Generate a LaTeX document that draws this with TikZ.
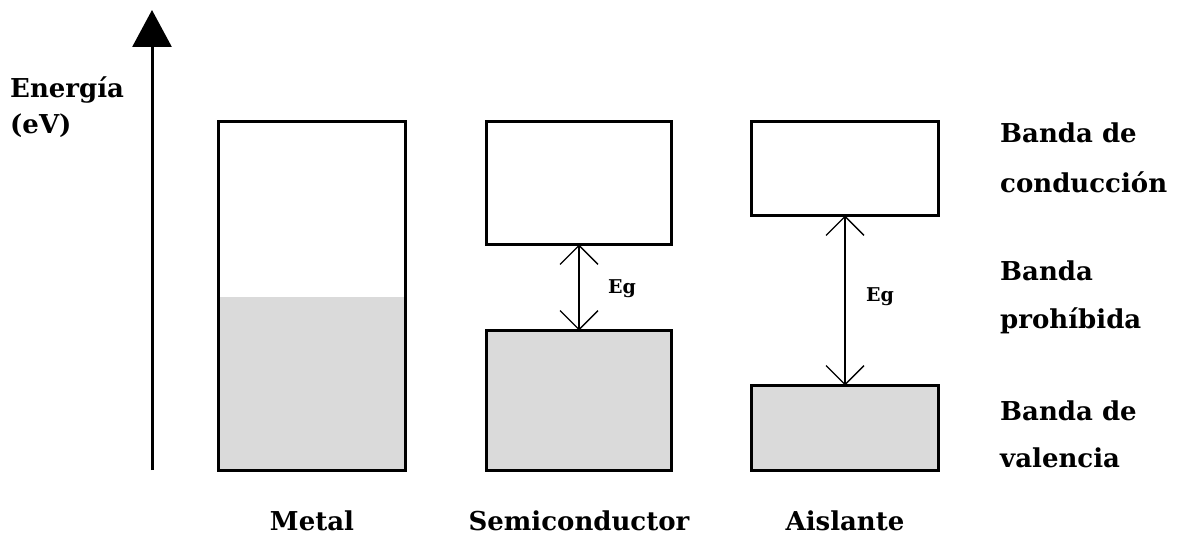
\documentclass[tikz,border=0pt]{standalone}
\usepackage{fontspec}
\setmainfont{DejaVu Serif}
\usetikzlibrary{arrows.meta}
\definecolor{bandgray}{HTML}{DADADA}
\tikzset{
  band/.style={draw, line width=3pt, inner sep=0pt, outer sep=0pt},
  filledband/.style={band, fill=bandgray},
  txt/.style={inner sep=0pt, anchor=base west, font=\bfseries\fontsize{26}{31}\selectfont},
  matname/.style={inner sep=0pt, anchor=base, font=\bfseries\fontsize{26}{31}\selectfont},
  gap/.style={line width=1.3pt,
    {Straight Barb[length=19pt,width=38pt]}-{Straight Barb[length=19pt,width=38pt]}},
  eg/.style={font=\bfseries\fontsize{19}{22}\selectfont, inner sep=0pt},
}
\begin{document}
\begin{tikzpicture}[x=1pt,y=-1pt]
  \useasboundingbox (0,0) rectangle (1189,535);

  % energy axis
  \coordinate (axb) at (152,470);
  \coordinate (axt) at (152,10);
  \draw[line width=3pt, -{Triangle[length=37pt,width=39pt]}] (axb) -- (axt);
  \node[txt] (en) at (10,97) {Energía};
  \node[txt] (ev) at (10,133) {(eV)};

  % metal: one band, partly filled
  \node[band, minimum width=187pt, minimum height=349pt,
        path picture={\fill[bandgray] (path picture bounding box.south west)
          rectangle ([yshift=-1pt]path picture bounding box.east);}]
        (metal) at (312,296) {};

  % semiconductor
  \node[band, minimum width=185pt, minimum height=123pt] (sc) at (579,183) {};
  \node[filledband, minimum width=185pt, minimum height=140pt] (sv) at (579,400.5) {};
  \draw[gap] (sc.south) -- (sv.north);
  \node[eg] (eg1) at (622,289) {Eg};

  % insulator
  \node[band, minimum width=187pt, minimum height=94pt] (ic) at (845,168.5) {};
  \node[filledband, minimum width=187pt, minimum height=85pt] (iv) at (845,428) {};
  \draw[gap] (ic.south) -- (iv.north);
  \node[eg] (eg2) at (880,297) {Eg};

  % material names, centred under their bands
  \node[matname] (lm) at (metal.center |- 0,530) {Metal};
  \node[matname] (ls) at (sv.center |- 0,530) {Semiconductor};
  \node[matname] (la) at (iv.center |- 0,530) {Aislante};

  % band names
  \node[txt] (b1) at (1000,142) {Banda de};
  \node[txt] (b2) at (1000,192) {conducción};
  \node[txt] (b3) at (1000,280) {Banda};
  \node[txt] (b4) at (1000,328) {prohíbida};
  \node[txt] (b5) at (1000,420) {Banda de};
  \node[txt] (b6) at (1000,467) {valencia};
\end{tikzpicture}
\end{document}
